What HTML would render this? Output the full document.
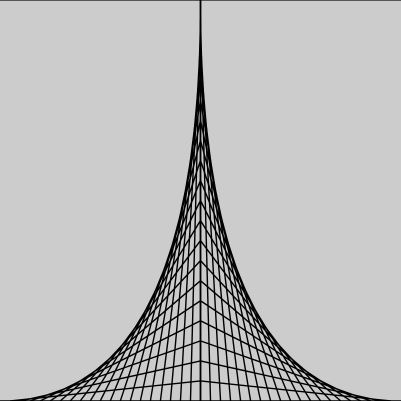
<!DOCTYPE html>
<html><head><meta charset="utf-8"><style>
html,body{margin:0;padding:0;background:#cccccc;}
svg{display:block;}
</style></head><body>
<svg id="chart" width="401" height="401" viewBox="0 0 401 401">
<rect x="0" y="0" width="401" height="401" fill="#cccccc"/>
<line x1="0" y1="0.5" x2="401" y2="0.5" stroke="#555" stroke-width="1"/>
<g id="lines"></g>
</svg>
<script>
const steps = [0,1,2,3,4,5,6,7,8,9,10,11,12,13,14,15,16,17,18,19,20];
const stepCount = [20];
const sides = [-1, 1];
const N = stepCount[0];
const cx = 200.5, H = 401, W = 200.5;
function axisY(k){ return H * k / N; }
function baseX(k, s){ return cx + s * W * (k / N); }
const g = document.getElementById('lines');
const NS = 'http://www.w3.org/2000/svg';
const v = document.createElementNS(NS,'line');


v.setAttribute('x1', cx); v.setAttribute('y1', 0); v.setAttribute('x2', cx); v.setAttribute('y2', H);
v.setAttribute('stroke', '#000'); v.setAttribute('stroke-width', '1.5');
g.appendChild(v);
sides.forEach(s => {
  steps.forEach(k => {
    const l = document.createElementNS(NS,'line');
    
    
    l.setAttribute('x1', cx); l.setAttribute('y1', axisY(k));
    l.setAttribute('x2', baseX(k, s)); l.setAttribute('y2', H);
    l.setAttribute('stroke', '#000'); l.setAttribute('stroke-width', '1.4');
    g.appendChild(l);
  });
});
</script>
</body></html>
